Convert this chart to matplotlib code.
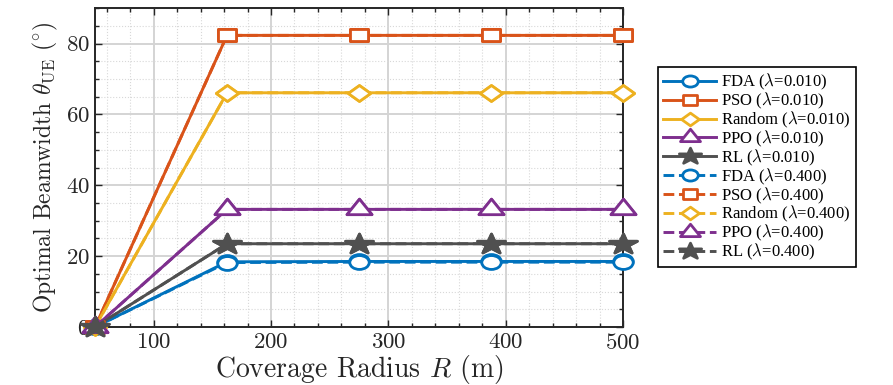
import matplotlib
matplotlib.use('Agg')
import matplotlib.pyplot as plt
from matplotlib.path import Path
from matplotlib.transforms import Affine2D
from matplotlib.ticker import MultipleLocator

# Data
radius = [50, 162.5, 275, 387.5, 500]
methods = ['FDA', 'PSO', 'Random', 'PPO', 'RL']
lambdas = ['0.010', '0.400']
beam_low = {'FDA': [0, 18.4, 18.5, 18.5, 18.5],
            'PSO': [0, 82.3, 82.3, 82.3, 82.3],
            'Random': [0, 66.1, 66.1, 66.1, 66.1],
            'PPO': [0, 33.2, 33.2, 33.2, 33.2],
            'RL': [0, 23.5, 23.5, 23.5, 23.5]}
beam_high = {'FDA': [0, 18.2, 18.3, 18.3, 18.3],
             'PSO': [0, 82.3, 82.3, 82.3, 82.3],
             'Random': [0, 66.1, 66.1, 66.1, 66.1],
             'PPO': [0, 33.2, 33.2, 33.2, 33.2],
             'RL': [0, 23.5, 23.5, 23.5, 23.5]}

colors = {'FDA': '#0072BD', 'PSO': '#D95319', 'Random': '#EDB120',
          'PPO': '#7E2F8E', 'RL': '#505050'}

# The reference figure is stretched sideways, so markers are widened too
stretch = Affine2D().scale(1.4, 1.0)
square = Path.unit_rectangle().transformed(Affine2D().translate(-0.5, -0.5))
markers = {'FDA': Path.unit_circle().transformed(stretch),
           'PSO': square.transformed(stretch),
           'Random': Path.unit_regular_polygon(4).transformed(stretch),
           'PPO': Path.unit_regular_polygon(3).transformed(stretch),
           'RL': Path.unit_regular_star(5, 0.381966).transformed(stretch)}
msizes = {'FDA': 14, 'PSO': 13, 'Random': 16, 'PPO': 18, 'RL': 20}

plt.rcParams['font.family'] = 'serif'
plt.rcParams['font.serif'] = ['cmr10', 'DejaVu Serif']
plt.rcParams['mathtext.fontset'] = 'cm'
plt.rcParams['axes.unicode_minus'] = False
plt.rcParams['axes.formatter.use_mathtext'] = True

fig = plt.figure(figsize=(8.93, 3.85), dpi=100)
ax = fig.add_axes([0.1064, 0.1506, 0.5913, 0.8284])

# Plot both lambda settings: solid for 0.010, dashed for 0.400
for lam, data, ls in [(lambdas[0], beam_low, '-'), (lambdas[1], beam_high, '--')]:
    for m in methods:
        ax.plot(radius, data[m], ls, color=colors[m], lw=2.1,
                marker=markers[m], ms=msizes[m], mew=2.0,
                mfc='white' if m != 'RL' else colors[m],
                label=f'{m} ($\\lambda$={lam})', clip_on=False, zorder=3)

ax.set_xlim(50, 500)
ax.set_ylim(0, 90)
ax.xaxis.set_major_locator(MultipleLocator(100))
ax.xaxis.set_minor_locator(MultipleLocator(20))
ax.yaxis.set_major_locator(MultipleLocator(20))
ax.yaxis.set_minor_locator(MultipleLocator(5))
ax.grid(True, which='major', color='#d4d4d4', lw=1.4)
ax.grid(True, which='minor', color='#d8d8d8', lw=0.8, ls=':')
ax.set_axisbelow(True)
ax.tick_params(which='both', direction='in', top=True, right=True,
               labelsize=16.5, labelcolor='#262626', color='#262626',
               width=1.0)
ax.tick_params(which='major', length=5, pad=4)
ax.tick_params(which='minor', length=3)
for sp in ax.spines.values():
    sp.set_linewidth(1.4)
    sp.set_color('#262626')

ax.set_xlabel('Coverage Radius $R$ (m)', fontsize=20, labelpad=0,
              color='#262626')
ax.set_ylabel('Optimal Beamwidth $\\theta_{\\mathrm{UE}}$ ($^{\\circ}$)',
              fontsize=17, labelpad=4, color='#262626')

leg = fig.legend(loc='upper left', bbox_to_anchor=(0.737, 0.826),
                 prop={'family': 'Liberation Serif', 'size': 12},
                 handlelength=3.2, handletextpad=0.3, labelspacing=-0.08,
                 borderpad=0.3, borderaxespad=0, fancybox=False,
                 edgecolor='black', framealpha=1, markerscale=0.8)
leg.get_frame().set_linewidth(1.2)

fig.savefig('out.png', dpi=100)
